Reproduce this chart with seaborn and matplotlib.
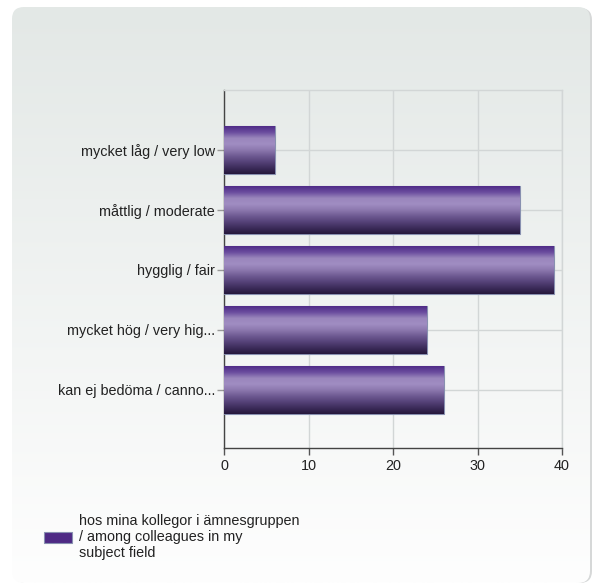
import numpy as np
import matplotlib
matplotlib.use("Agg")
import matplotlib.pyplot as plt
from matplotlib.patches import FancyBboxPatch, Patch
import seaborn as sns

# Data
categories = ["mycket låg / very low", "måttlig / moderate", "hygglig / fair",
              "mycket hög / very hig...", "kan ej bedöma / canno..."]
values = [6, 35, 39, 24, 26]
series_name = "hos mina kollegor i ämnesgruppen\n/ among colleagues in my\nsubject field"
x_ticks = [0, 10, 20, 30, 40]

sns.set_theme(style="white")
plt.rcParams['font.family'] = ['Liberation Sans', 'DejaVu Sans']

fig = plt.figure(figsize=(5.95, 5.85), dpi=100)
fig.patch.set_facecolor("white")

# Background panel with vertical gradient and rounded corners
bg = fig.add_axes([0, 0, 1, 1], zorder=-10)
shadow = FancyBboxPatch((14, 8), 578, 575, boxstyle="round,pad=0,rounding_size=12",
                        facecolor="#d6d8d8", edgecolor="none", zorder=0)
bg.add_patch(shadow)
panel = FancyBboxPatch((12, 7), 578, 576, boxstyle="round,pad=0,rounding_size=12",
                       facecolor="none", edgecolor="none", zorder=1)
bg.add_patch(panel)
grad = np.linspace(0, 1, 256).reshape(-1, 1)
top_c = np.array([0xe3, 0xe8, 0xe6]) / 255
bot_c = np.array([0xfe, 0xfe, 0xfe]) / 255
img = top_c + (bot_c - top_c) * grad[..., None]
im = bg.imshow(img, extent=(12, 590, 583, 7), aspect="auto", zorder=2)
im.set_clip_path(panel)
bg.set_xlim(0, 595)
bg.set_ylim(585, 0)
bg.axis("off")

# Main chart
ax = fig.add_axes([224 / 595, 1 - 448 / 585, (562 - 224) / 595, (448 - 90) / 585])
ax.set_facecolor("none")
sns.barplot(x=values, y=categories, orient="h", color="#4e2a84", width=0.8,
            edgecolor="#8890b0", linewidth=0.8, ax=ax, zorder=3)

# Gradient fill on bars
bar_grad = np.array([
    [0x50, 0x2c, 0x88], [0x6a, 0x4c, 0x9e], [0x9a, 0x86, 0xbc], [0xa0, 0x8d, 0xc2],
    [0x8c, 0x78, 0xae], [0x6e, 0x5a, 0x92], [0x55, 0x42, 0x78], [0x3c, 0x2c, 0x5a],
    [0x26, 0x18, 0x3c]]) / 255
pos = np.linspace(0, 1, len(bar_grad))
t = np.linspace(0, 1, 100)
grad_img = np.stack([np.interp(t, pos, bar_grad[:, k]) for k in range(3)], axis=-1)[:, None, :]
for p in ax.patches:
    x0, y0, w, h = p.get_x(), p.get_y(), p.get_width(), p.get_height()
    gi = ax.imshow(grad_img, extent=(x0, x0 + w, y0 + h, y0), aspect="auto", zorder=3.5)
    gi.set_clip_path(p)

ax.set_xlim(0, 40)
ax.set_ylim(4.97, -1)
ax.set_xticks(x_ticks)
ax.set_xlabel("")
ax.set_ylabel("")
ax.grid(True, color="#d2d6d6", linewidth=1, zorder=0)
ax.set_axisbelow(True)
for s in ["top", "right"]:
    ax.spines[s].set_color("#d2d6d6")
    ax.spines[s].set_linewidth(1)
for s in ["left", "bottom"]:
    ax.spines[s].set_color("#444444")
    ax.spines[s].set_linewidth(1)
ax.tick_params(axis="both", which="both", direction="out", length=5, width=1,
               bottom=True, left=True, colors="#555555", labelcolor="#222222",
               labelsize=10.4, pad=3)
ax.tick_params(axis="y", colors="#999999", labelcolor="#222222", pad=1.5)

# Legend
handle = Patch(facecolor="#4e2a84", edgecolor="#8890b0", linewidth=0.8)
fig.legend([handle], [series_name], loc="center left", bbox_to_anchor=(0.052, 0.082),
           frameon=False, fontsize=10.4, handlelength=1.95, handleheight=0.8,
           handletextpad=0.5, labelcolor="#222222")

fig.savefig("out.png", dpi=100)
